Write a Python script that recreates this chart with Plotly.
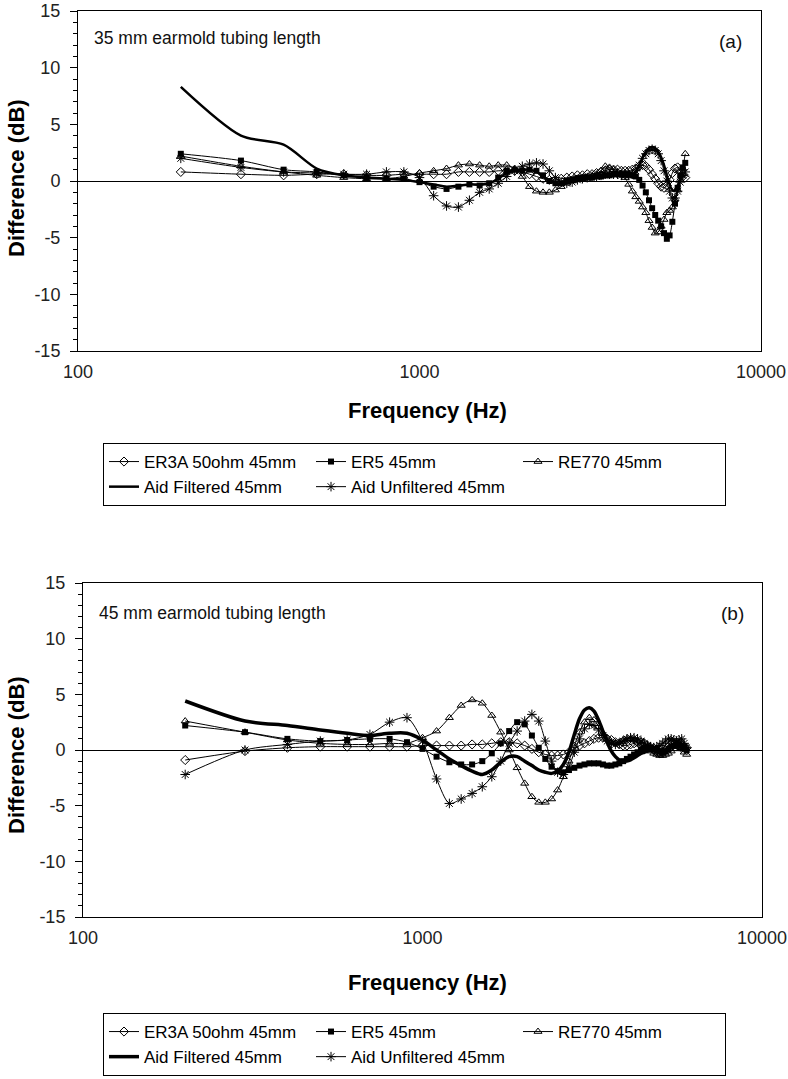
import plotly.graph_objects as go

freq = [200, 300, 400, 500, 600, 700, 800, 900, 1000, 1100, 1200, 1300, 1400, 1500,
        1600, 1700, 1800, 1900, 2000, 2100, 2200, 2300, 2400, 2500, 2600, 2700, 2800,
        2900, 3000, 3100, 3200, 3300, 3400, 3500, 3600, 3700, 3800, 3900, 4000, 4100,
        4200, 4300, 4400, 4500, 4600, 4700, 4800, 4900, 5000, 5100, 5200, 5300, 5400,
        5500, 5600, 5700, 5800, 5900, 6000]

series_names = ["ER3A 50ohm 45mm", "ER5 45mm", "RE770 45mm",
                "Aid Filtered 45mm", "Aid Unfiltered 45mm"]

# Panel (a): 35 mm earmold tubing length
a_er3a = [0.8, 0.6, 0.5, 0.6, 0.6, 0.5, 0.5, 0.6, 0.6, 0.6, 0.6, 0.8, 0.8, 0.8, 0.8,
          0.9, 0.9, 0.9, 0.8, 0.6, 0.4, 0.2, 0.1, 0.1, 0.2, 0.3, 0.4, 0.5, 0.5, 0.6,
          0.6, 0.7, 0.8, 0.9, 1.0, 1.0, 1.0, 0.9, 0.9, 0.9, 1.0, 1.1, 1.3, 1.4, 1.3,
          1.0, 0.6, 0.2, -0.2, -0.5, -0.6, -0.4, 0.1, 0.7, 1.1, 1.2, 0.9, 0.4, 0.3]
a_er5 = [2.4, 1.8, 1.0, 0.8, 0.5, 0.3, 0.2, 0.2, -0.1, -0.5, -0.7, -0.5, -0.3, -0.4,
         -0.2, 0.3, 0.9, 1.0, 0.9, 1.0, 0.9, 0.5, 0.0, -0.2, -0.2, 0.0, 0.1, 0.2, 0.3,
         0.3, 0.3, 0.4, 0.4, 0.5, 0.5, 0.6, 0.6, 0.6, 0.6, 0.6, 0.5, 0.4, 0.1, -0.4,
         -1.0, -1.7, -2.4, -3.0, -3.5, -4.0, -4.6, -5.1, -4.8, -3.6, -2.0, -0.6, 0.5,
         1.2, 1.6]
a_re770 = [2.2, 1.3, 0.8, 0.5, 0.3, 0.2, 0.2, 0.4, 0.7, 0.9, 1.1, 1.4, 1.5, 1.4, 1.3,
           1.4, 1.4, 1.1, 0.4, -0.5, -0.9, -1.0, -1.0, -0.8, -0.5, -0.2, 0.0, 0.1, 0.2,
           0.3, 0.4, 0.6, 0.9, 1.3, 1.2, 1.0, 0.8, 0.6, 0.3, -0.3, -0.9, -1.4, -1.8,
           -2.3, -2.8, -3.5, -4.1, -4.6, -4.5, -4.0, -3.4, -2.8, -2.6, -2.3, -1.6, -0.8,
           0.1, 1.1, 2.4]
a_aid_filt = [8.3, 4.0, 3.2, 1.1, 0.5, 0.3, 0.2, 0.1, -0.1, -0.3, -0.5, -0.4, -0.3,
              -0.3, -0.2, 0.2, 0.7, 0.9, 1.0, 1.0, 0.8, 0.4, 0.0, -0.2, -0.3, -0.2, 0.0,
              0.1, 0.2, 0.3, 0.3, 0.4, 0.4, 0.5, 0.5, 0.5, 0.5, 0.4, 0.4, 0.4, 0.5, 0.8,
              1.4, 2.1, 2.6, 2.9, 3.0, 2.9, 2.6, 2.1, 1.4, 0.5, -0.3, -0.8, -0.8, -0.4,
              0.1, 0.4, 0.5]
a_aid_unfilt = [2.0, 1.2, 0.8, 0.7, 0.6, 0.6, 0.8, 0.8, 0.3, -1.3, -2.2, -2.3, -1.7,
                -1.0, -0.7, -0.2, 0.4, 0.9, 1.3, 1.5, 1.6, 1.5, 0.9, 0.3, -0.1, -0.2,
                -0.1, 0.1, 0.2, 0.3, 0.4, 0.4, 0.5, 0.6, 0.6, 0.6, 0.6, 0.5, 0.5, 0.5,
                0.6, 0.9, 1.4, 2.0, 2.4, 2.7, 2.8, 2.7, 2.4, 1.8, 0.9, 0.0, -0.9, -1.5,
                -1.5, -0.9, -0.1, 0.5, 0.8]

# Panel (b): 45 mm earmold tubing length
b_er3a = [-0.9, -0.1, 0.2, 0.3, 0.3, 0.3, 0.3, 0.3, 0.4, 0.4, 0.4, 0.4, 0.5, 0.5, 0.6,
          0.7, 0.7, 0.6, 0.4, 0.1, -0.2, -0.4, -0.5, -0.5, -0.4, -0.2, 0.1, 0.4, 0.6,
          0.8, 1.0, 1.1, 1.1, 1.0, 0.9, 0.7, 0.5, 0.4, 0.4, 0.5, 0.6, 0.7, 0.7, 0.6,
          0.4, 0.2, 0.0, -0.2, -0.3, -0.2, 0.0, 0.3, 0.5, 0.6, 0.5, 0.3, 0.2, 0.3, 0.2]
b_er5 = [2.2, 1.6, 1.0, 0.8, 0.9, 1.0, 1.0, 0.7, 0.1, -0.6, -1.1, -1.3, -1.3, -1.0,
         -0.3, 0.6, 1.7, 2.5, 2.3, 1.3, 0.2, -0.8, -1.5, -1.9, -2.0, -1.8, -1.6, -1.4,
         -1.3, -1.2, -1.2, -1.2, -1.3, -1.4, -1.4, -1.3, -1.2, -1.0, -0.8, -0.6, -0.4,
         -0.2, 0.0, 0.1, 0.2, 0.2, 0.1, 0.0, -0.1, -0.2, -0.1, 0.1, 0.3, 0.4, 0.5, 0.5,
         0.4, 0.2, 0.0]
b_re770 = [2.6, 1.6, 0.9, 0.6, 0.5, 0.5, 0.6, 0.6, 1.1, 1.7, 2.9, 4.0, 4.5, 4.2, 3.1,
           1.6, 0.0, -1.6, -3.0, -4.2, -4.7, -4.7, -4.4, -3.6, -2.4, -1.0, 0.4, 1.6,
           2.5, 2.9, 2.7, 2.1, 1.5, 1.0, 0.7, 0.6, 0.7, 0.9, 1.0, 1.0, 0.9, 0.7, 0.5,
           0.3, 0.1, -0.1, -0.3, -0.4, -0.5, -0.5, -0.4, -0.3, -0.1, 0.1, 0.3, 0.4, 0.2,
           -0.2, -0.4]
b_aid_filt = [4.4, 2.6, 2.2, 1.8, 1.5, 1.3, 1.5, 1.5, 0.9, 0.0, -0.8, -1.4, -1.9, -2.2,
              -1.8, -1.1, -0.6, -0.6, -1.0, -1.4, -1.8, -2.0, -2.1, -1.9, -1.3, -0.2,
              1.4, 2.8, 3.6, 3.8, 3.5, 2.7, 1.7, 0.7, -0.1, -0.6, -0.9, -1.0, -1.0, -0.9,
              -0.7, -0.5, -0.3, -0.2, -0.1, 0.0, 0.1, 0.1, 0.0, -0.1, 0.0, 0.2, 0.4, 0.5,
              0.5, 0.4, 0.2, 0.0, -0.2]
b_aid_unfilt = [-2.2, 0.0, 0.5, 0.8, 0.9, 1.4, 2.5, 2.9, 0.8, -2.6, -4.8, -4.4, -3.9,
                -3.3, -2.4, -1.0, 0.6, 1.7, 2.6, 3.2, 2.6, 0.8, -1.0, -2.0, -2.2, -1.5,
                -0.2, 1.0, 1.9, 2.3, 2.2, 1.8, 1.3, 0.8, 0.6, 0.5, 0.6, 0.8, 1.0, 1.1,
                1.1, 1.0, 0.8, 0.6, 0.4, 0.3, 0.2, 0.3, 0.4, 0.6, 0.8, 1.0, 1.0, 0.9, 0.8,
                0.9, 1.0, 0.6, 0.2]

panel_a = [a_er3a, a_er5, a_re770, a_aid_filt, a_aid_unfilt]
panel_b = [b_er3a, b_er5, b_re770, b_aid_filt, b_aid_unfilt]

x_ticks = [100, 1000, 10000]
x_ticktext = ["100", "1000", "10000"]
y_ticks = [-15, -10, -5, 0, 5, 10, 15]
y_ticktext = ["-15", "-10", "-5", "0", "5", "10", "15"]

FONT = "Liberation Sans, Arial, sans-serif"
W, H = 788, 1079


def px(v):
    return v / W


def py(v):
    return 1 - v / H


styles = [
    dict(mode="lines+markers", marker=dict(symbol="diamond-open", size=7, color="black",
                                            line=dict(width=1, color="black")),
         line=dict(color="black", width=1)),
    dict(mode="lines+markers", marker=dict(symbol="square", size=6, color="black"),
         line=dict(color="black", width=1)),
    dict(mode="lines+markers", marker=dict(symbol="triangle-up-open", size=7, color="black",
                                            line=dict(width=1, color="black")),
         line=dict(color="black", width=1)),
    dict(mode="lines", line=dict(color="black", width=2.5)),
    dict(mode="lines+markers", marker=dict(symbol="asterisk-open", size=8, color="black",
                                            line=dict(width=1, color="black")),
         line=dict(color="black", width=1)),
]

fig = go.Figure()

for panel, xa, ya, leg, thick in [(panel_a, "x", "y", "legend", 2.5),
                                   (panel_b, "x2", "y2", "legend2", 3.5)]:
    for name, vals, st in zip(series_names, panel, styles):
        line = dict(st["line"])
        if name.startswith("Aid Filtered"):
            line["width"] = thick
        line["shape"] = "spline"
        line["smoothing"] = 0.8
        fig.add_trace(go.Scatter(
            x=freq, y=vals, name=name, mode=st["mode"],
            marker=st.get("marker"), line=line,
            xaxis=xa, yaxis=ya, legend=leg, showlegend=True,
        ))

xcommon = dict(type="log", range=[2, 4], tickvals=x_ticks, ticktext=x_ticktext,
               ticks="", showgrid=False, zeroline=False, showline=True, mirror=True,
               linecolor="black", linewidth=1, ticklabelstandoff=4,
               ticklabeloverflow="allow",
               tickfont=dict(family=FONT, size=18, color="#222"))
ycommon = dict(range=[-15, 15], tickvals=y_ticks, ticktext=y_ticktext,
               ticks="outside", ticklen=7,
               tickcolor="black", tickwidth=1,
               minor=dict(dtick=1, ticks="outside", ticklen=4, tickcolor="black",
                          showgrid=False),
               showgrid=False, zeroline=True, zerolinecolor="black", zerolinewidth=1,
               showline=True, mirror=True, linecolor="black", linewidth=1,
               ticklabeloverflow="allow",
               tickfont=dict(family=FONT, size=18, color="#222"), ticklabelstandoff=6)

legcommon = dict(orientation="h", entrywidth=162, entrywidthmode="pixels",
                 bgcolor="white", bordercolor="black", borderwidth=1,
                 font=dict(family=FONT, size=17, color="black"),
                 xanchor="left", yanchor="top", traceorder="normal",
                 itemsizing="trace")

fig.update_layout(
    width=W, height=H,
    margin=dict(l=0, r=0, t=0, b=0, autoexpand=False),
    paper_bgcolor="white", plot_bgcolor="white",
    font=dict(family=FONT, color="black"),
    xaxis=dict(domain=[px(78), px(761)], anchor="y", **xcommon),
    yaxis=dict(domain=[py(351), py(11)], anchor="x", **ycommon),
    xaxis2=dict(domain=[px(83), px(762)], anchor="y2", **xcommon),
    yaxis2=dict(domain=[py(917), py(583)], anchor="x2", **ycommon),
    legend=dict(x=px(103), y=py(443), **legcommon),
    legend2=dict(x=px(103), y=py(1013), **legcommon),
    showlegend=True,
)

ann = []
ann.append(dict(text="35 mm earmold tubing length", x=px(92), y=py(38), xanchor="left",
                yanchor="middle", font=dict(family=FONT, size=17.5, color="#111")))
ann.append(dict(text="(a)", x=px(744), y=py(41), xanchor="right", yanchor="middle",
                font=dict(family=FONT, size=19, color="#111")))
ann.append(dict(text="45 mm earmold tubing length", x=px(97), y=py(613), xanchor="left",
                yanchor="middle", font=dict(family=FONT, size=17.5, color="#111")))
ann.append(dict(text="(b)", x=px(746), y=py(613), xanchor="right", yanchor="middle",
                font=dict(family=FONT, size=19, color="#111")))
for yc in [178, 755]:
    ann.append(dict(text="<b>Difference (dB)</b>", x=px(16), y=py(yc), textangle=-90,
                    xanchor="center", yanchor="middle",
                    font=dict(family=FONT, size=22, color="black")))
for yc in [410, 982]:
    ann.append(dict(text="<b>Frequency (Hz)</b>", x=px(427), y=py(yc), xanchor="center",
                    yanchor="middle", font=dict(family=FONT, size=22, color="black")))
for a in ann:
    a.update(xref="paper", yref="paper", showarrow=False)
fig.update_layout(annotations=ann)

# remove the browser's default 8 px body margin so the figure fills the window
fig.write_html("out.html",
               config={"displayModeBar": False},
               post_script="document.body.style.margin='0px';"
                           "document.body.style.overflow='hidden';")
